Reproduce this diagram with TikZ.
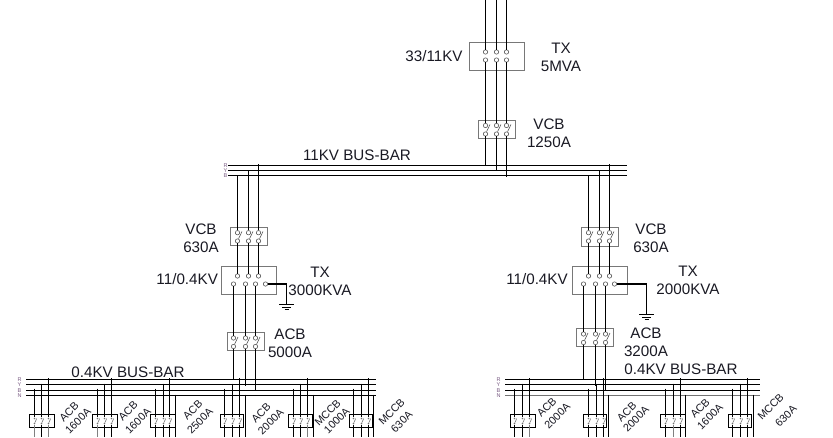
\documentclass[tikz,border=0pt]{standalone}
\usepackage{fontspec}
\setmainfont{Liberation Sans}
\usepackage{tikz}
\definecolor{boxgrey}{RGB}{120,120,120}
\definecolor{phasecol}{RGB}{120,90,130}
\definecolor{inkcol}{RGB}{25,25,35}
\tikzstyle{wire} = [line width=1.1pt, black]
\tikzstyle{busline} = [line width=1.1pt, black]
\tikzstyle{blade} = [line width=0.55pt, black!70]
\tikzstyle{tinyblade} = [line width=0.6pt, black!55]
\tikzstyle{term} = [circle, draw=black!70, fill=white, line width=0.55pt, inner sep=0pt, minimum size=4.4pt]
\tikzstyle{tinyterm} = [circle, fill=black!55, inner sep=0pt, minimum size=1.8pt]
\tikzstyle{txblock} = [rectangle, draw=boxgrey, line width=0.75pt, minimum width=55pt, minimum height=27.5pt]
\tikzstyle{cbblock} = [rectangle, draw=boxgrey, line width=0.75pt, minimum width=37pt, minimum height=18.5pt]
\tikzstyle{feederblock} = [rectangle, draw=black, line width=0.8pt, minimum height=13pt]
\tikzstyle{lbl} = [font=\fontsize{15.2}{17}\selectfont, inner sep=0pt, text=inkcol]
\tikzstyle{rotlbl} = [font=\fontsize{10.8}{12}\selectfont, inner sep=0pt, rotate=45, text=inkcol]
\tikzstyle{phase} = [font=\fontsize{5.5}{6}\selectfont, inner sep=0pt, text=phasecol]

\begin{document}
\begin{tikzpicture}[x=1pt, y=-1pt, node distance=18pt]
   \useasboundingbox (0,0) rectangle (833,437);

   % nodes
   \node[txblock] (tx1) at (497,56.5) {};
   \node[cbblock] (vcb1) at (497,129.5) {};
   \node[cbblock] (vcb2) at (249.2,236.5) {};
   \node[txblock] (tx2) at (249.2,280.5) {};
   \node[cbblock] (acb1) at (245.8,341.5) {};
   \node[cbblock] (vcb3) at (600.2,236.7) {};
   \node[txblock] (tx3) at (600,280.5) {};
   \node[cbblock] (acb2) at (595.3,337.5) {};

   % labels
   \node[lbl] (l1) [left of=tx1, node distance=63pt] {33/11KV};
   \node[lbl] (l2) at (561,48) {TX};
   \node[lbl] (l3) [below of=l2] {5MVA};
   \node[lbl] (l4) at (549,124) {VCB};
   \node[lbl] (l5) [below of=l4] {1250A};
   \node[lbl] (l6) at (357,155) {11KV BUS-BAR};
   \node[lbl] (l7) at (201,229) {VCB};
   \node[lbl] (l8) [below of=l7] {630A};
   \node[lbl] (l9) [left of=tx2, node distance=62pt, yshift=1.5pt] {11/0.4KV};
   \node[lbl] (l10) at (320,272) {TX};
   \node[lbl] (l11) [below of=l10] {3000KVA};
   \node[lbl] (l12) at (290,334) {ACB};
   \node[lbl] (l13) [below of=l12] {5000A};
   \node[lbl] (l14) at (651,229) {VCB};
   \node[lbl] (l15) [below of=l14] {630A};
   \node[lbl] (l16) [left of=tx3, node distance=63pt, yshift=1.5pt] {11/0.4KV};
   \node[lbl] (l17) at (688,271) {TX};
   \node[lbl] (l18) [below of=l17] {2000KVA};
   \node[lbl] (l19) at (646,333) {ACB};
   \node[lbl] (l20) [below of=l19] {3200A};
   \node[lbl] (l21) at (128,372) {0.4KV BUS-BAR};
   \node[lbl] (l22) at (681,369) {0.4KV BUS-BAR};

   % bus-bars
   \foreach \n/\y/\t in {1/165.5/R, 2/170.5/Y, 3/175.5/B} {
      \node[phase] (hv\n) at (225.5,\y) {\t};
      \coordinate (hvs\n) at (228,\y);
      \coordinate (hve\n) at (627,\y);
      \draw[busline] (hvs\n) -- (hve\n);
   }
   \foreach \n/\y/\t/\c in {1/379.5/R/black, 2/384.5/Y/black, 3/390.5/B/black, 4/395.5/N/black!55} {
      \node[phase] (la\n) at (19.5,\y) {\t};
      \coordinate (las\n) at (26,\y);
      \coordinate (lae\n) at (376,\y);
      \draw[busline] (las\n) -- (lae\n);
      \node[phase] (lb\n) at (498.5,\y) {\t};
      \coordinate (lbs\n) at (505,\y);
      \coordinate (lbe\n) at (759.5,\y);
      \draw[busline, draw=\c] (lbs\n) -- (lbe\n);
   }

   % 33/11KV transformer and its breaker
   \foreach \n/\x/\y in {1/485.5/165.5, 2/496.5/171, 3/506.5/177} {
      \coordinate (top\n) at (\x,0);
      \coordinate (end\n) at (\x,\y);
      \node[term] (txu\n) at (\x,52) {};
      \node[term] (txl\n) at (\x,60) {};
      \node[term] (cbu\n) at (\x,125.5) {};
      \node[term] (cbl\n) at (\x,134) {};
      \draw[wire] (top\n) -- (txu\n);
      \draw[wire] (txl\n) -- (cbu\n);
      \draw[blade] (cbl\n) -- ++(4.5,-9.5);
      \draw[wire] (cbl\n) -- (end\n);
   }

   % 11/0.4KV branches
   \foreach \s/\ax/\bx/\cx/\dx/\ex/\fx/\gx/\ytop/\ycb/\ybot in {
      a/237.5/248.5/258.5/233.5/245.5/255.5/265.5/232.7/241/338,
      b/588.5/599.5/609.5/583.5/595.5/605.5/614.5/232.7/241/334} {
      \foreach \n/\x/\ys in {1/\ax/176, 2/\bx/170, 3/\cx/164} {
         \coordinate (drop\s\n) at (\x,\ys);
         \node[term] (ub\s\n) at (\x,\ytop) {};
         \node[term] (ul\s\n) at (\x,\ycb) {};
         \node[term] (tu\s\n) at (\x,276) {};
         \draw[wire] (drop\s\n) -- (ub\s\n);
         \draw[blade] (ul\s\n) -- ++(4.5,-9.5);
         \draw[wire] (ul\s\n) -- (tu\s\n);
      }
      \foreach \n/\x/\ys in {1/\dx/379.5, 2/\ex/385.5, 3/\fx/391} {
         \node[term] (tl\s\n) at (\x,284) {};
         \node[term] (lu\s\n) at (\x,\ybot) {};
         \node[term] (ll\s\n) at (\x,\ybot+8.5) {};
         \coordinate (tap\s\n) at (\x,\ys);
         \draw[wire] (tl\s\n) -- (lu\s\n);
         \draw[blade] (ll\s\n) -- ++(4.5,-9.5);
         \draw[wire] (ll\s\n) -- (tap\s\n);
      }
      \node[term] (nt\s) at (\gx,284) {};
   }

   % neutral earths
   \coordinate (gna) at (286.5,304.5);
   \coordinate (gnb) at (646.5,314.5);
   \draw[wire] (nta) -- (nta -| gna) -- (gna);
   \draw[wire] (ntb) -- (ntb -| gnb) -- (gnb);
   \foreach \s in {a,b} {
      \draw[line width=0.9pt] ([xshift=-7.5pt]gn\s) -- ([xshift=7.5pt]gn\s);
      \draw[line width=0.9pt] ([xshift=-4.5pt,yshift=-2.7pt]gn\s) -- ([xshift=4.5pt,yshift=-2.7pt]gn\s);
      \draw[line width=0.9pt] ([xshift=-2pt,yshift=-5pt]gn\s) -- ([xshift=2pt,yshift=-5pt]gn\s);
   }

   % feeders
   \foreach \n/\xa/\xb/\xc/\ca/\cb/\cc/\bl/\br in {
      1/34.5/41.5/48.5/black!50/black/black!50/29.5/54.5,
      2/97.5/104.5/111.5/black!50/black/black/92.5/117.5,
      3/155.5/163.5/169.5/black/black/black/150.5/175.5,
      4/224.5/232.5/239.5/black/black/black/220.5/243.5,
      5/293.5/300.5/307.5/black/black/black!50/288.5/312.5,
      6/353.5/361.5/368.5/black/black/black/349.5/372.5,
      7/514.5/522.5/529.5/black/black/black!50/510.5/535.5,
      8/588.5/596.5/603.5/black/black/black/583.5/606.5,
      9/665.5/673.5/680.5/black/black!50/black/660.5/685.5,
      10/732.5/740.5/747.5/black/black/black/728.5/751.5} {
      \node[feederblock, minimum width=\br pt-\bl pt] (fb\n) at ({(\bl+\br)/2},420.8) {};
      \foreach \p/\x/\ys/\c in {1/\xa/388.5/\ca, 2/\xb/383.5/\cb, 3/\xc/378/\cc} {
         \coordinate (ft\n\p) at (\x,\ys);
         \coordinate (fe\n\p) at (\x,437);
         \node[tinyterm] (fu\n\p) at (\x,418.5) {};
         \node[tinyterm] (fl\n\p) at (\x,423.5) {};
         \draw[wire] (ft\n\p) -- (fu\n\p);
         \draw[tinyblade] (fl\n\p) -- ++(2.2,-5);
         \draw[wire, draw=\c] (fl\n\p) -- (fe\n\p);
      }
   }

   % fourth wire on some of the feeders
   \foreach \n/\x in {3/175.5, 4/245.5, 5/313.5, 6/373.5, 8/608.5, 9/685.5, 10/753.5} {
      \coordinate (nu\n) at (\x,394.5);
      \coordinate (nd\n) at (\x,437);
      \draw[wire] (nu\n) -- (nd\n);
   }

   % feeder ratings
   \foreach \n/\ax/\ay/\bx/\by/\ta/\tb in {
      1/69/411.7/78/421/ACB/1600A,
      2/128/410.7/138/421/ACB/1600A,
      3/192.7/410/200/421/ACB/2500A,
      4/261/412.7/270.7/421.7/ACB/2000A,
      5/327.7/412.7/336.7/420.5/MCCB/1000A,
      6/391.7/411.7/401.7/421.7/MCCB/630A,
      7/546.7/407.3/557.3/416/ACB/2000A,
      8/626.7/411.7/636/419/ACB/2000A,
      9/700/408.3/710/416.7/ACB/1600A,
      10/770.7/406.7/786/416/MCCB/630A} {
      \node[rotlbl] (ra\n) at (\ax,\ay) {\ta};
      \node[rotlbl] (rb\n) at (\bx,\by) {\tb};
   }
\end{tikzpicture}
\end{document}
